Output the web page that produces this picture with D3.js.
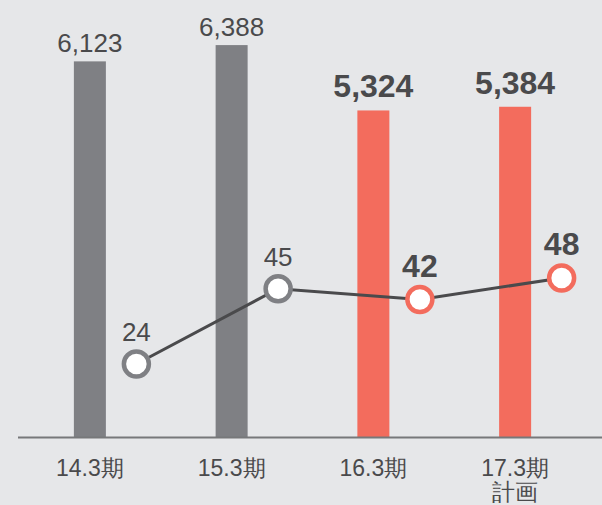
<!DOCTYPE html>
<html>
<head>
<meta charset="utf-8">
<script src="https://cdn.jsdelivr.net/npm/d3@7/dist/d3.min.js"></script>
<style>
  html, body { margin: 0; padding: 0; background: #e6e7e9; }
  svg { display: block; font-family: "Liberation Sans", Arial, "Noto Sans CJK JP", sans-serif; }
</style>
</head>
<body>
<div id="chart"></div>
<script>
// data
const categories = ['14.3期', '15.3期', '16.3期', '17.3期\n計画'];
const barValues = [6123, 6388, 5324, 5384];
const lineValues = [24, 45, 42, 48];
const isActual = [true, true, false, false]; // first two grey, rest highlighted

const width = 602;
const height = 505;
const baseY = 437.5;

const grey = '#7f8084';
const red = '#f36c5d';
const textCol = '#4a4a4c';

const svg = d3.select('#chart').append('svg')
  .attr('width', width)
  .attr('height', height);

svg.append('rect')
  .attr('width', width)
  .attr('height', height)
  .attr('fill', '#e6e7e9');

const x = d3.scaleBand()
  .domain(categories)
  .range([19, 586]);

const yBar = d3.scaleLinear().domain([0, 7000]).range([baseY, 7.5]);
const yLine = d3.scaleLinear().domain([0, 60]).range([450, 235]);

const barW = 32;
const lineOffset = 46.5;
const cx = c => x(c) + x.bandwidth() / 2;

// bars
svg.selectAll('rect.bar')
  .data(categories)
  .enter().append('rect')
  .attr('class', 'bar')
  .attr('x', d => cx(d) - barW / 2)
  .attr('width', barW)
  .attr('y', (d, i) => yBar(barValues[i]))
  .attr('height', (d, i) => baseY - yBar(barValues[i]))
  .attr('fill', (d, i) => isActual[i] ? grey : red);

// bar labels
svg.selectAll('text.barLabel')
  .data(categories)
  .enter().append('text')
  .attr('class', 'barLabel')
  .attr('x', d => cx(d))
  .attr('y', (d, i) => yBar(barValues[i]) - (isActual[i] ? 9 : 13))
  .attr('text-anchor', 'middle')
  .attr('fill', textCol)
  .style('font-size', (d, i) => isActual[i] ? '26px' : '32px')
  .style('font-weight', (d, i) => isActual[i] ? 'normal' : 'bold')
  .text((d, i) => d3.format(',')(barValues[i]));

// axis
const xAxis = d3.axisBottom(x).tickSize(0).tickPadding(0);
const gx = svg.append('g')
  .attr('transform', 'translate(0,' + baseY + ')')
  .call(xAxis);
gx.select('.domain').remove();
gx.selectAll('.tick text').remove();
gx.selectAll('.tick').each(function(d) {
  const t = d3.select(this).append('text')
    .attr('fill', textCol)
    .attr('text-anchor', 'middle')
    .style('font-size', '23px');
  d.split('\n').forEach((s, k) => {
    t.append('tspan')
      .attr('x', 0)
      .attr('y', 38.5 + k * 24)
      .text(s);
  });
});

svg.append('line')
  .attr('x1', 18)
  .attr('x2', width)
  .attr('y1', baseY)
  .attr('y2', baseY)
  .attr('stroke', '#77787a')
  .attr('stroke-width', 2);

// line series
const line = d3.line()
  .x((d, i) => cx(categories[i]) + lineOffset)
  .y(d => yLine(d));

svg.append('path')
  .datum(lineValues)
  .attr('d', line)
  .attr('fill', 'none')
  .attr('stroke', textCol)
  .attr('stroke-width', 3);

svg.selectAll('circle.pt')
  .data(lineValues)
  .enter().append('circle')
  .attr('class', 'pt')
  .attr('cx', (d, i) => cx(categories[i]) + lineOffset)
  .attr('cy', d => yLine(d))
  .attr('r', 12.5)
  .attr('fill', '#fff')
  .attr('stroke', (d, i) => isActual[i] ? grey : red)
  .attr('stroke-width', 4.5);

svg.selectAll('text.ptLabel')
  .data(lineValues)
  .enter().append('text')
  .attr('class', 'ptLabel')
  .attr('x', (d, i) => cx(categories[i]) + lineOffset)
  .attr('y', d => yLine(d) - 23)
  .attr('text-anchor', 'middle')
  .attr('fill', textCol)
  .style('font-size', (d, i) => isActual[i] ? '26px' : '32px')
  .style('font-weight', (d, i) => isActual[i] ? 'normal' : 'bold')
  .text(d => d);
</script>
</body>
</html>
